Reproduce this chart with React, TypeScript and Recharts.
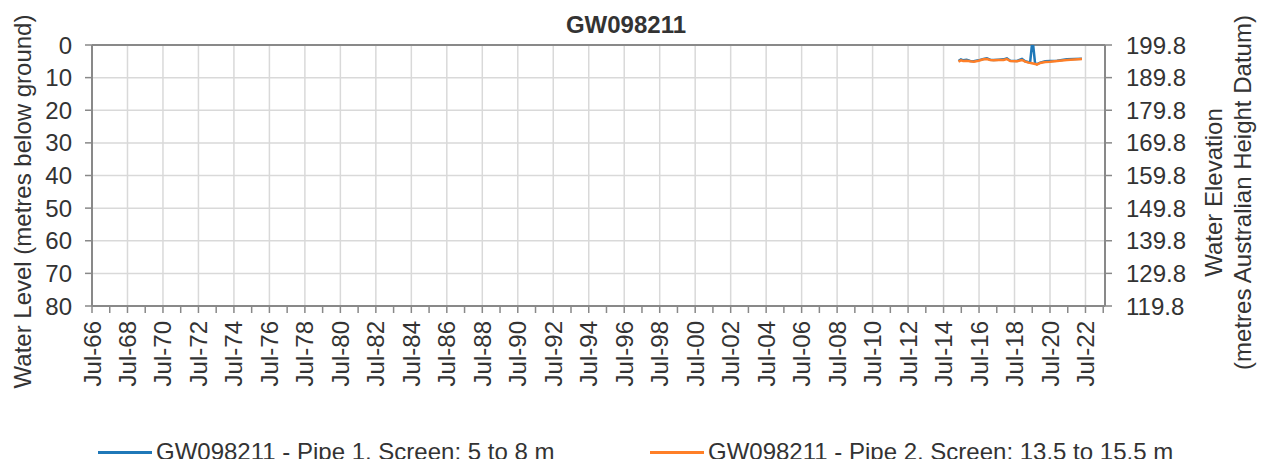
import React from "react";
import {
  LineChart,
  Line,
  XAxis,
  YAxis,
  CartesianGrid,
  ReferenceLine,
} from "recharts";

const chartTitle = "GW098211";
const leftAxisTitle = "Water Level (metres below ground)";
const rightAxisTitleLines = ["Water Elevation", "(metres Australian Height Datum)"];

// decimal years
const pipe1Dates = [
  2015.34, 2015.48, 2015.6, 2015.8, 2016.0, 2016.2, 2016.47, 2016.75, 2016.94,
  2017.13, 2017.32, 2017.6, 2017.88, 2018.07, 2018.26, 2018.64, 2018.92, 2019.1,
  2019.3, 2019.38, 2019.48, 2019.55, 2019.66, 2019.76, 2019.95, 2020.23, 2020.5,
  2020.9, 2021.45, 2022.3,
];
const pipe1Levels = [
  4.9, 4.4, 4.7, 4.5, 4.9, 5.0, 4.7, 4.3, 4.1,
  4.5, 4.6, 4.5, 4.4, 4.1, 4.8, 4.9, 4.3, 5.0,
  5.3, 5.3, 0, 0, 5.7, 5.9, 5.4, 5.0, 4.9,
  4.8, 4.4, 4.2,
];

const pipe2Dates = [
  2015.34, 2015.48, 2015.6, 2015.8, 2016.0, 2016.2, 2016.47, 2016.75, 2016.94,
  2017.13, 2017.32, 2017.6, 2017.88, 2018.07, 2018.26, 2018.64, 2018.92, 2019.1,
  2019.3, 2019.48, 2019.67, 2019.76, 2019.95, 2020.23, 2020.5, 2020.9, 2021.45,
  2022.3,
];
const pipe2Levels = [
  5.1, 4.7, 4.9, 4.8, 5.0, 5.1, 4.8, 4.4, 4.3,
  4.6, 4.7, 4.6, 4.6, 4.3, 4.9, 5.0, 4.6, 5.1,
  5.4, 5.6, 5.8, 6.0, 5.5, 5.2, 5.1, 4.9, 4.6,
  4.3,
];

const seriesNames = [
  "GW098211 - Pipe 1, Screen: 5 to 8 m",
  "GW098211 - Pipe 2, Screen: 13.5 to 15.5 m",
];
const seriesColors = ["#1f78b8", "#ff7f27"];

const xDomain = [1966.5, 2023.6];
const minorTicks = Array.from({ length: 58 }, (_, i) => 1966.5 + i);
const majorTicks = minorTicks.filter((_, i) => i % 2 === 0);
const leftTicks = [0, 10, 20, 30, 40, 50, 60, 70, 80];
const rightTicks = [119.8, 129.8, 139.8, 149.8, 159.8, 169.8, 179.8, 189.8, 199.8];

const pipe1Data = pipe1Dates.map((d, i) => ({ date: d, level: pipe1Levels[i] }));
const pipe2Data = pipe2Dates.map((d, i) => ({ date: d, level: pipe2Levels[i] }));

const FONT = '"Liberation Sans", Arial, sans-serif';
const TEXT = "#333333";
const AXIS = "#898989";
const GRID = "#d9d9d9";
const FS = 24;

const W = 1250;
const H = 451;

function monthLabel(v: number) {
  const year = Math.floor(v);
  return "Jul-" + String(year % 100).padStart(2, "0");
}

const XTick = (props: any) => {
  const { x, y, payload } = props;
  const v = payload.value;
  const idx = Math.round(v - 1966.5);
  if (idx % 2 !== 0) return null;
  return (
    <text
      x={x}
      y={y}
      transform={`rotate(-90 ${x} ${y})`}
      textAnchor="end"
      dominantBaseline="central"
      fontSize={FS}
      fontFamily={FONT}
      fill={TEXT}
    >
      {monthLabel(v)}
    </text>
  );
};

const LeftTitle = (props: any) => {
  const vb = props.viewBox || { x: 0, y: 0, width: 0, height: 0 };
  const cx = vb.x + 14;
  const cy = vb.y + vb.height / 2 + 26;
  return (
    <text
      x={cx}
      y={cy}
      transform={`rotate(-90 ${cx} ${cy})`}
      textAnchor="middle"
      dominantBaseline="central"
      fontSize={FS}
      fontFamily={FONT}
      fill={TEXT}
    >
      {leftAxisTitle}
    </text>
  );
};

const RightTitle = (props: any) => {
  const vb = props.viewBox || { x: 0, y: 0, width: 0, height: 0 };
  const cy = vb.y + vb.height / 2 + 17;
  return (
    <g>
      {rightAxisTitleLines.map((t, i) => {
        const cx = vb.x + 108 + i * 29;
        return (
          <text
            key={i}
            x={cx}
            y={cy}
            transform={`rotate(-90 ${cx} ${cy})`}
            textAnchor="middle"
            dominantBaseline="central"
            fontSize={FS}
            fontFamily={FONT}
            fill={TEXT}
          >
            {t}
          </text>
        );
      })}
    </g>
  );
};

export default function App() {
  return (
    <div style={{ position: "relative", width: W, height: H, fontFamily: FONT }}>
      <div
        style={{
          position: "absolute",
          top: 4,
          left: 418,
          width: 400,
          textAlign: "center",
          fontWeight: "bold",
          fontSize: FS,
          color: TEXT,
          lineHeight: "26px",
        }}
      >
        {chartTitle}
      </div>
      <LineChart
        width={W}
        height={H}
        margin={{ top: 37, right: 0, bottom: 0, left: 0 }}
      >
        <CartesianGrid
          stroke={GRID}
          strokeWidth={1.5}
          yAxisId="left"
          vertical={false}
        />
        {majorTicks.slice(1).map((t) => (
          <ReferenceLine
            key={t}
            yAxisId="left"
            x={t}
            stroke={GRID}
            strokeWidth={1.5}
          />
        ))}
        <XAxis
          dataKey="date"
          type="number"
          domain={xDomain}
          ticks={minorTicks}
          interval={0}
          allowDataOverflow
          height={153}
          tickSize={7}
          tickMargin={8}
          tick={<XTick />}
          axisLine={{ stroke: AXIS, strokeWidth: 2 }}
          tickLine={{ stroke: AXIS, strokeWidth: 1.5 }}
        />
        <YAxis
          yAxisId="left"
          orientation="left"
          type="number"
          domain={[0, 80]}
          ticks={leftTicks}
          reversed
          allowDataOverflow
          width={84}
          tickSize={7}
          tickMargin={13}
          tick={{ fontSize: FS, fontFamily: FONT, fill: TEXT }}
          axisLine={{ stroke: AXIS, strokeWidth: 2 }}
          tickLine={{ stroke: AXIS, strokeWidth: 1.5 }}
          label={<LeftTitle />}
        />
        <YAxis
          yAxisId="right"
          orientation="right"
          type="number"
          domain={[119.8, 199.8]}
          ticks={rightTicks}
          allowDataOverflow
          width={153}
          tickSize={7}
          tickMargin={14}
          tickFormatter={(v: number) => v.toFixed(1)}
          tick={{ fontSize: FS, fontFamily: FONT, fill: TEXT }}
          axisLine={{ stroke: AXIS, strokeWidth: 2 }}
          tickLine={{ stroke: AXIS, strokeWidth: 1.5 }}
          label={<RightTitle />}
        />
        <ReferenceLine yAxisId="left" y={0} stroke={AXIS} strokeWidth={2} />
        <Line
          yAxisId="left"
          data={pipe1Data}
          dataKey="level"
          name={seriesNames[0]}
          stroke={seriesColors[0]}
          strokeWidth={2.5}
          dot={false}
          isAnimationActive={false}
        />
        <Line
          yAxisId="left"
          data={pipe2Data}
          dataKey="level"
          name={seriesNames[1]}
          stroke={seriesColors[1]}
          strokeWidth={2.5}
          dot={false}
          isAnimationActive={false}
        />
      </LineChart>
      <div
        style={{
          position: "absolute",
          top: 431,
          left: 90,
          display: "flex",
          alignItems: "center",
          fontSize: FS,
          color: TEXT,
          lineHeight: "26px",
          whiteSpace: "nowrap",
        }}
      >
        {seriesNames.map((n, i) => (
          <div
            key={i}
            style={{
              display: "flex",
              alignItems: "center",
              width: i === 0 ? 552 : undefined,
            }}
          >
            <span
              style={{
                display: "inline-block",
                width: 54,
                height: 3,
                background: seriesColors[i],
                marginRight: 4,
              }}
            />
            <span>{n}</span>
          </div>
        ))}
      </div>
    </div>
  );
}
